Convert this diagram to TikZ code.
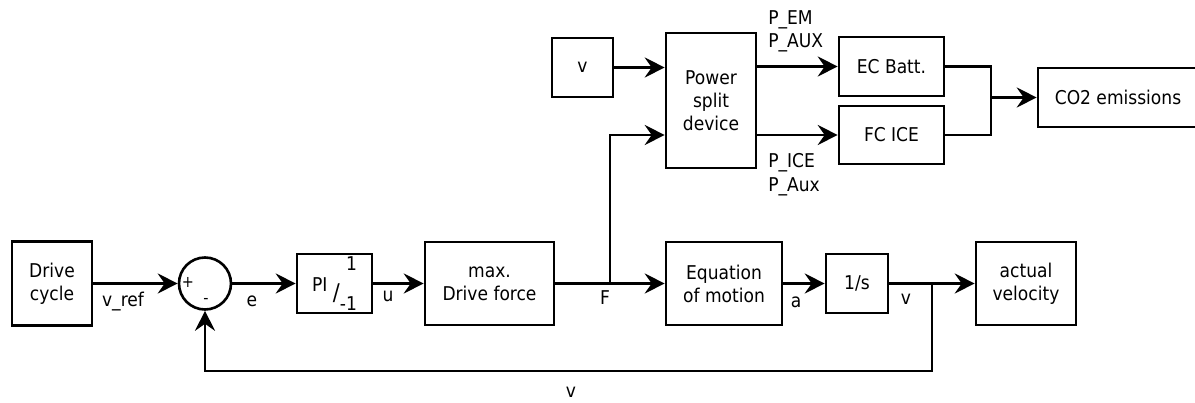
\documentclass[tikz,border=0pt]{standalone}
\usepackage{fontspec}
\setmainfont{DejaVu Sans Condensed}
\usetikzlibrary{arrows.meta,calc}
\begin{document}
\begin{tikzpicture}[x=1pt,y=-1pt,line width=2.6pt,
  box/.style={draw,line width=2.6pt,align=center,inner sep=0pt,font=\fontsize{19}{23}\selectfont},
  lbl/.style={anchor=base,inner sep=0pt,font=\fontsize{19}{20}\selectfont},
  lblc/.style={anchor=center,inner sep=0pt,font=\fontsize{16}{18}\selectfont},
  arr/.style={-{Stealth[length=20pt,width=20pt,inset=7pt]}}]
\useasboundingbox (0,0) rectangle (1195,403);
% blocks
\node[box,minimum width=80pt,minimum height=84pt] (drive) at (52,283.5) {Drive\\cycle};
\node[draw,circle,line width=2.6pt,minimum size=52pt,inner sep=0pt] (sum) at (205,283.5) {};
\node[lblc] (plus) at (188,282) {+};
\node[lblc] (minus) at (206,301) {-};
\node[box,minimum width=75pt,minimum height=59pt] (pi) at (334.5,283.5)
  {PI \raisebox{-0.8ex}{\fontsize{23}{23}\selectfont/}\raisebox{-1.8ex}{-1}\llap{\raisebox{2.1ex}{1}}};
\node[box,minimum width=129pt,minimum height=83pt] (maxf) at (489.5,283.5) {max.\\Drive force};
\node[box,minimum width=116pt,minimum height=83pt] (eom) at (724,283.5) {Equation\\of motion};
\node[box,minimum width=62pt,minimum height=59pt] (integ) at (857,283.5) {1/s};
\node[box,minimum width=100pt,minimum height=83pt] (actv) at (1026,283.5) {actual\\velocity};
\node[box,minimum width=61pt,minimum height=59pt] (vbox) at (582.5,67.5) {v};
\node[box,minimum width=90pt,minimum height=135pt] (psd) at (711,100.5) {Power\\split\\device};
\node[box,minimum width=105pt,minimum height=59pt] (ecb) at (891.5,66.5) {EC Batt.};
\node[box,minimum width=105pt,minimum height=58pt] (fci) at (891.5,135) {FC ICE};
\node[box,minimum width=160pt,minimum height=59pt] (co2) at (1118,97.5) {CO2 emissions};
% junctions
\coordinate (fj) at (610,283.5);
\coordinate (vj) at (932,283.5);
\coordinate (fb) at (932,371);
\coordinate (mj) at (991,97.5);
% connectors
\draw[arr] (drive) -- (sum);
\draw[arr] (sum) -- (pi);
\draw[arr] (pi) -- (maxf);
\draw[arr] (maxf) -- (eom);
\draw[arr] (fj) |- (psd.west |- fci.west);
\draw[arr] (eom) -- (integ);
\draw[arr] (integ) -- (actv);
\draw[arr] (vj) -- (fb) -| (sum.south);
\draw[arr] (vbox) -- (psd.west |- vbox.east);
\draw[arr] (psd.east |- ecb.west) -- (ecb.west);
\draw[arr] (psd.east |- fci.west) -- (fci.west);
\draw (ecb.east) -| (mj) |- (fci.east);
\draw[arr] (mj) -- (co2.west);
% labels
\node[lbl] (lvref) at (123,307) {v\_ref};
\node[lbl] (le) at (252,307) {e};
\node[lbl] (lu) at (388,302) {u};
\node[lbl] (lF) at (605,305) {F};
\node[lbl] (la) at (796,308) {a};
\node[lbl] (lv) at (906,305) {v};
\node[lbl] (lvb) at (571,398) {v};
\node[lbl,anchor=base west] (lpem) at (767,25) {P\_EM};
\node[lbl,anchor=base west] (lpaux) at (767,48) {P\_AUX};
\node[lbl,anchor=base west] (lpice) at (767,168) {P\_ICE};
\node[lbl,anchor=base west] (lpaux2) at (767,192) {P\_Aux};
\end{tikzpicture}
\end{document}
